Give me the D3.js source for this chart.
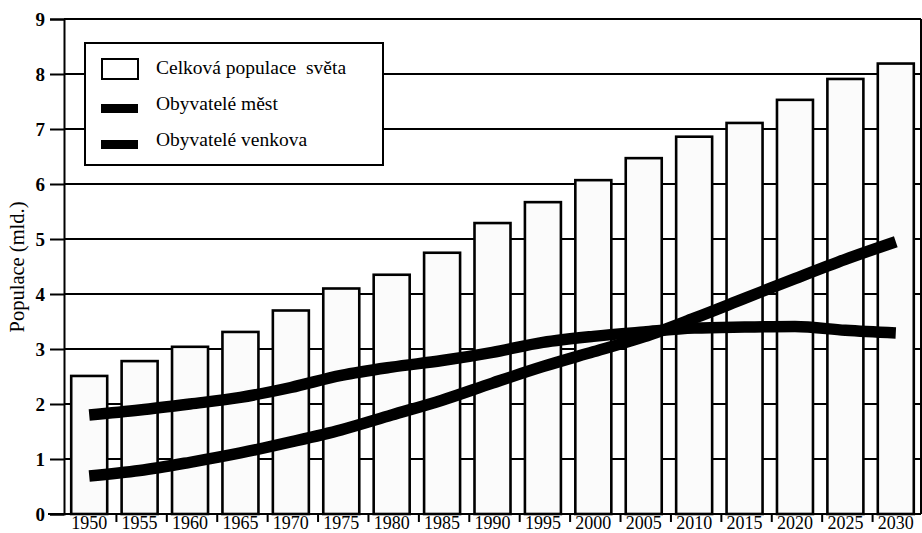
<!DOCTYPE html>
<html>
<head>
<meta charset="utf-8">
<script src="https://cdn.jsdelivr.net/npm/d3@7"></script>
<style>
  html, body { margin: 0; padding: 0; background: #fff; }
  svg { display: block; }
  text { font-family: "Liberation Serif", "Times New Roman", serif; fill: #000; }
</style>
</head>
<body>
<svg id="chart" width="922" height="533"></svg>
<script>
// ---- data ----
const years = ["1950","1955","1960","1965","1970","1975","1980","1985","1990","1995","2000","2005","2010","2015","2020","2025","2030"];
const totalPopulation = [2.51, 2.78, 3.04, 3.31, 3.70, 4.10, 4.35, 4.75, 5.29, 5.67, 6.07, 6.47, 6.86, 7.11, 7.53, 7.91, 8.19];
const urbanPopulation = [0.69, 0.79, 0.94, 1.11, 1.31, 1.53, 1.80, 2.07, 2.38, 2.68, 2.95, 3.22, 3.56, 3.92, 4.28, 4.63, 4.95];
const ruralPopulation = [1.80, 1.89, 2.00, 2.12, 2.30, 2.52, 2.67, 2.79, 2.94, 3.12, 3.23, 3.31, 3.38, 3.40, 3.41, 3.34, 3.29];
const yTicks = [0, 1, 2, 3, 4, 5, 6, 7, 8, 9];
const yTitle = "Populace (mld.)";
const legendLabels = ["Celková populace  světa", "Obyvatelé měst", "Obyvatelé venkova"];

// ---- layout ----
const svg = d3.select("#chart");
const plotL = 64, plotR = 921, plotT = 19, plotB = 514;

const x = d3.scaleBand().domain(years).range([plotL, plotR]).paddingInner(0.286).paddingOuter(0.143);
const y = d3.scaleLinear().domain([0, 9]).range([plotB, plotT]);

// gridlines
svg.append("g").selectAll("line").data(yTicks.filter(d => d > 0)).join("line")
  .attr("x1", plotL).attr("x2", plotR)
  .attr("y1", d => y(d)).attr("y2", d => y(d))
  .attr("stroke", "#000").attr("stroke-width", 2);

// right frame
svg.append("line").attr("x1", plotR).attr("x2", plotR).attr("y1", y(9)).attr("y2", y(0))
  .attr("stroke", "#000").attr("stroke-width", 2);

// bars
svg.append("g").selectAll("rect").data(years).join("rect")
  .attr("x", d => x(d))
  .attr("y", (d, i) => y(totalPopulation[i]))
  .attr("width", x.bandwidth())
  .attr("height", (d, i) => y(0) - y(totalPopulation[i]))
  .attr("fill", "#fbfbfb")
  .attr("stroke", "#000").attr("stroke-width", 2.6);

// y axis
const yAxis = svg.append("g").attr("transform", `translate(${plotL},0)`)
  .call(d3.axisLeft(y).tickValues(yTicks).tickSize(14).tickPadding(5).tickFormat(d3.format("d")));
yAxis.select(".domain").attr("stroke-width", 2);
yAxis.selectAll(".tick line").attr("stroke-width", 2);
yAxis.selectAll("text").attr("font-size", 19).attr("font-family", "Liberation Serif").attr("font-weight", "bold");

// x axis (labels)
const xAxis = svg.append("g").attr("transform", `translate(0,${plotB})`)
  .call(d3.axisBottom(x).tickSize(0).tickPadding(2));
xAxis.select(".domain").remove();
xAxis.selectAll("text").attr("font-size", 18).attr("font-family", "Liberation Serif").attr("dy", "0.71em");

// bottom axis line
svg.append("line").attr("x1", plotL - 16).attr("x2", plotR).attr("y1", plotB).attr("y2", plotB)
  .attr("stroke", "#000").attr("stroke-width", 2);

// boundary ticks
const stepPad = x.step() * x.paddingInner() / 2;
svg.append("g").selectAll("line").data(years.slice(1)).join("line")
  .attr("x1", d => x(d) - stepPad + 2).attr("x2", d => x(d) - stepPad + 2)
  .attr("y1", plotB).attr("y2", plotB + 8)
  .attr("stroke", "#000").attr("stroke-width", 2);

// lines
const line = d3.line()
  .x((d, i) => x(years[i]) + x.bandwidth() / 2)
  .y(d => y(d))
  .curve(d3.curveMonotoneX);

svg.append("path").datum(ruralPopulation).attr("d", line)
  .attr("fill", "none").attr("stroke", "#000").attr("stroke-width", 11.5);
svg.append("path").datum(urbanPopulation).attr("d", line)
  .attr("fill", "none").attr("stroke", "#000").attr("stroke-width", 11.5);

// y title
svg.append("text")
  .attr("transform", `translate(24,267) rotate(-90)`)
  .attr("text-anchor", "middle")
  .attr("font-size", 20.5)
  .text(yTitle);

// legend
const lg = svg.append("g");
lg.append("rect").attr("x", 85).attr("y", 43).attr("width", 298).attr("height", 122)
  .attr("fill", "#fff").attr("stroke", "#000").attr("stroke-width", 2);
lg.append("rect").attr("x", 102).attr("y", 59).attr("width", 36).attr("height", 20)
  .attr("fill", "#fff").attr("stroke", "#000").attr("stroke-width", 2);
[108, 144].forEach(cy => {
  lg.append("rect").attr("x", 101).attr("y", cy - 4).attr("width", 37).attr("height", 9).attr("fill", "#000");
});
const legendY = [74, 110, 146];
lg.selectAll("text.leg").data(legendLabels).join("text")
  .attr("class", "leg")
  .attr("x", 156).attr("y", (d, i) => legendY[i])
  .attr("font-size", 19.5)
  .style("white-space", "pre")
  .text(d => d);
</script>
</body>
</html>
